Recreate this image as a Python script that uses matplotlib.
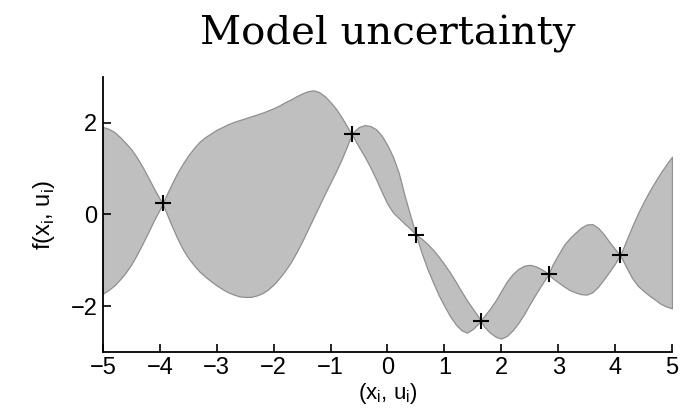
import matplotlib.pyplot as plt
import numpy as np

x = [-5.0, -4.9, -4.8, -4.7, -4.6, -4.5, -4.4, -4.3, -4.2, -4.1, -4.0, -3.95,
     -3.9, -3.8, -3.7, -3.6, -3.5, -3.4, -3.3, -3.2, -3.1, -3.0,
     -2.9, -2.8, -2.7, -2.6, -2.5, -2.4, -2.3, -2.2, -2.1, -2.0,
     -1.9, -1.8, -1.7, -1.6, -1.5, -1.4, -1.3, -1.2, -1.1, -1.0,
     -0.9, -0.8, -0.7, -0.63,
     -0.6, -0.5, -0.4, -0.3, -0.2, -0.1, 0.0, 0.1, 0.2, 0.3, 0.4, 0.5,
     0.6, 0.7, 0.8, 0.9, 1.0, 1.1, 1.2, 1.3, 1.4, 1.5, 1.6, 1.64,
     1.7, 1.8, 1.9, 2.0, 2.1, 2.2, 2.3, 2.4, 2.5, 2.6, 2.7, 2.8, 2.83,
     2.9, 3.0, 3.1, 3.2, 3.3, 3.4, 3.5, 3.6, 3.7, 3.8, 3.9, 4.0, 4.09,
     4.2, 4.3, 4.4, 4.5, 4.6, 4.7, 4.8, 4.9, 5.0]
upper = [1.91, 1.87, 1.80, 1.69, 1.56, 1.42, 1.24, 1.03, 0.80, 0.56, 0.34, 0.24,
         0.38, 0.64, 0.89, 1.10, 1.29, 1.45, 1.59, 1.69, 1.77, 1.85,
         1.91, 1.97, 2.02, 2.06, 2.10, 2.14, 2.18, 2.22, 2.27, 2.32,
         2.38, 2.45, 2.51, 2.58, 2.64, 2.69, 2.71, 2.67, 2.58, 2.45,
         2.30, 2.11, 1.90, 1.75,
         1.80, 1.91, 1.95, 1.93, 1.86, 1.72, 1.51, 1.25, 0.90, 0.42, -0.02, -0.44,
         -0.53, -0.64, -0.77, -0.92, -1.09, -1.27, -1.47, -1.68, -1.88, -2.06, -2.24, -2.32,
         -2.22, -2.06, -1.88, -1.67, -1.46, -1.30, -1.19, -1.12, -1.10, -1.13, -1.19, -1.27, -1.30,
         -1.10, -0.88, -0.67, -0.52, -0.40, -0.29, -0.22, -0.21, -0.29, -0.43, -0.60, -0.76, -0.89,
         -0.56, -0.26, 0.02, 0.27, 0.50, 0.71, 0.91, 1.09, 1.26]
lower = [-1.73, -1.65, -1.55, -1.42, -1.27, -1.09, -0.87, -0.63, -0.38, -0.12, 0.11, 0.24,
         0.08, -0.22, -0.50, -0.75, -0.95, -1.11, -1.25, -1.36, -1.46, -1.55,
         -1.63, -1.70, -1.75, -1.79, -1.80, -1.80, -1.77, -1.72, -1.64, -1.53,
         -1.39, -1.23, -1.05, -0.83, -0.59, -0.33, -0.07, 0.19, 0.45, 0.70,
         0.95, 1.22, 1.52, 1.75,
         1.69, 1.47, 1.26, 1.03, 0.77, 0.49, 0.23, 0.04, -0.08, -0.20, -0.31, -0.44,
         -0.84, -1.18, -1.48, -1.76, -2.00, -2.22, -2.40, -2.53, -2.58, -2.50, -2.38, -2.32,
         -2.45, -2.58, -2.67, -2.71, -2.65, -2.53, -2.37, -2.18, -1.96, -1.75, -1.55, -1.36, -1.30,
         -1.39, -1.48, -1.57, -1.65, -1.70, -1.74, -1.75, -1.70, -1.58, -1.42, -1.25, -1.07, -0.89,
         -1.16, -1.39, -1.56, -1.67, -1.77, -1.86, -1.95, -2.01, -2.05]

# observed points
obs_x = [-3.95, -0.63, 0.5, 1.64, 2.83, 4.09]
obs_y = [0.24, 1.75, -0.44, -2.32, -1.30, -0.89]

xticks = [-5, -4, -3, -2, -1, 0, 1, 2, 3, 4, 5]
yticks = [-2, 0, 2]

plt.rcParams['font.family'] = ['Liberation Sans', 'DejaVu Sans']

fig = plt.figure(figsize=(7, 4.12), dpi=100)
ax = fig.add_axes([0.147, 0.146, 0.813, 0.667])

ax.fill_between(x, lower, upper, facecolor='#bfbfbf', edgecolor='#8f8f8f', linewidth=0.9)
ax.plot(obs_x, obs_y, '+', color='black', markersize=12, markeredgewidth=1.5)

ax.set_xlim(-5, 5)
ax.set_ylim(-3, 3)
ax.set_xticks(xticks)
ax.set_yticks(yticks)
ax.set_xticklabels([str(t).replace('-', '\u2212') for t in xticks])
ax.set_yticklabels([str(t).replace('-', '\u2212') for t in yticks])
ax.tick_params(direction='in', length=6, width=1.2, labelsize=17, pad=4)

for s in ['top', 'right']:
    ax.spines[s].set_visible(False)
for s in ['left', 'bottom']:
    ax.spines[s].set_linewidth(1.3)

ax.set_xlabel(r'(x$_\mathregular{i}$, u$_\mathregular{i}$)', fontsize=16, labelpad=1)
ax.set_ylabel(r'f(x$_\mathregular{i}$, u$_\mathregular{i}$)', fontsize=17, labelpad=10)

fig.text(0.5536, 0.891, 'Model uncertainty', family='DejaVu Serif', fontsize=29,
         ha='center', va='baseline')

fig.savefig('out.png', dpi=100)
